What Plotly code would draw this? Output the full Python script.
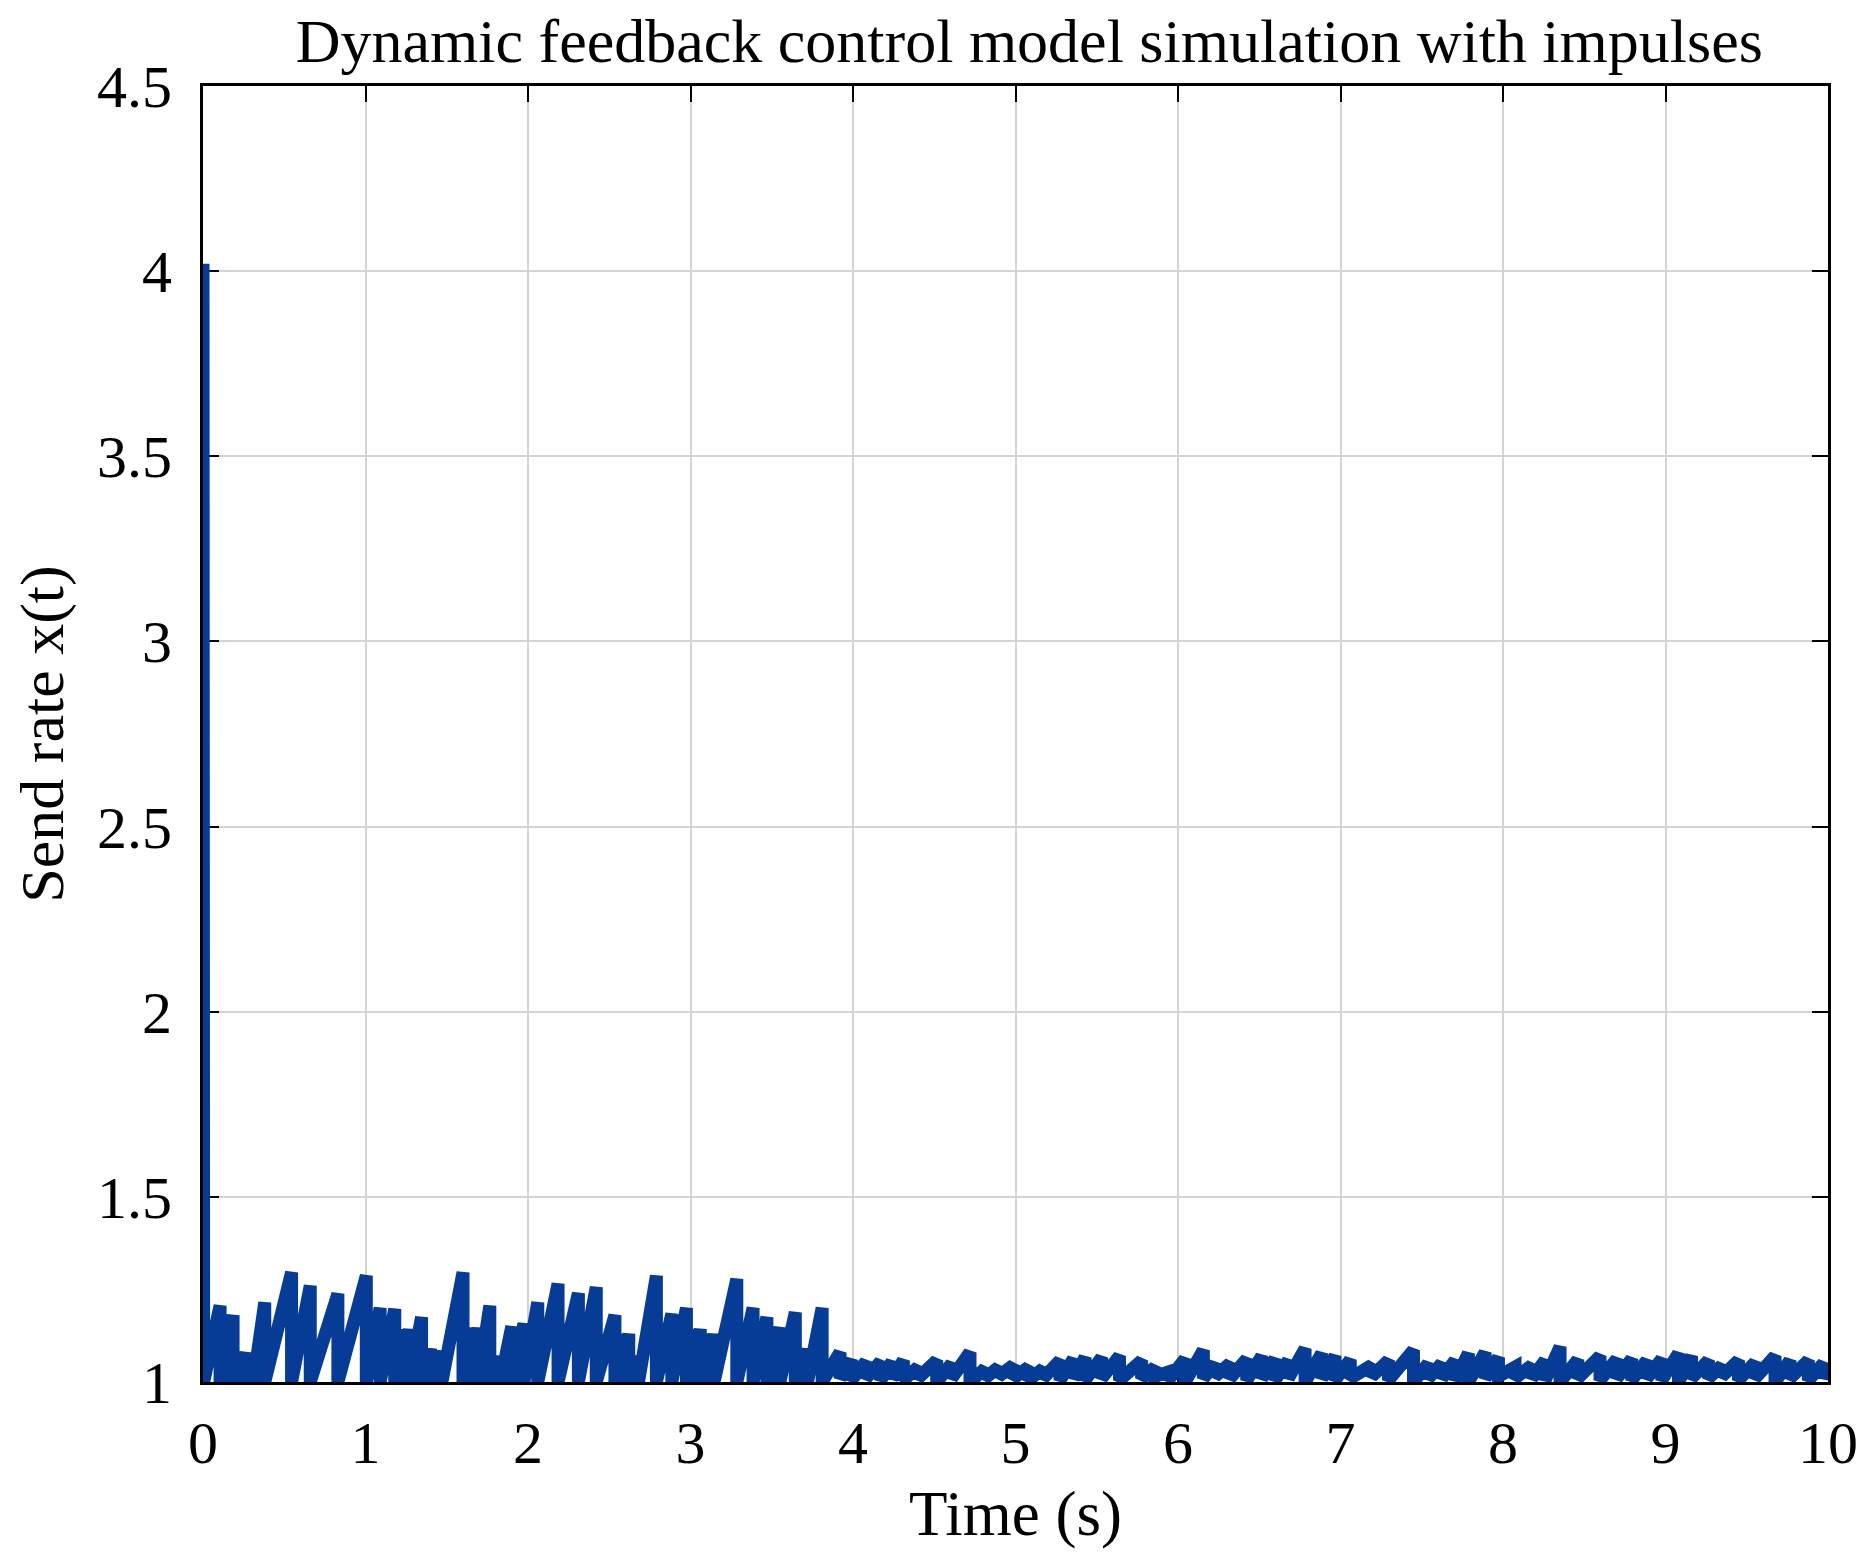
import plotly.graph_objects as go

# ---- data ----
# (time, value) vertices of the send-rate curve x(t)
t_vals = [
    0.000, 0.004, 0.105, 0.105, 0.185, 0.185, 0.225, 0.225, 0.265, 0.265, 0.310, 0.310,
    0.380, 0.380, 0.545, 0.545, 0.660, 0.660, 0.830, 0.830, 1.005, 1.005, 1.090, 1.090,
    1.180, 1.180, 1.225, 1.225, 1.270, 1.270, 1.345, 1.345, 1.400, 1.400, 1.440, 1.440,
    1.470, 1.470, 1.600, 1.600, 1.635, 1.635, 1.665, 1.665, 1.695, 1.695, 1.765, 1.765,
    1.800, 1.800, 1.830, 1.830, 1.900, 1.900, 1.975, 1.975, 2.060, 2.060, 2.185, 2.185,
    2.310, 2.310, 2.420, 2.420, 2.535, 2.535, 2.565, 2.565, 2.620, 2.620, 2.650, 2.650,
    2.680, 2.680, 2.790, 2.790, 2.885, 2.885, 2.975, 2.975, 3.010, 3.010, 3.060, 3.060,
    3.100, 3.100, 3.145, 3.145, 3.285, 3.285, 3.385, 3.385, 3.470, 3.470, 3.550, 3.550,
    3.645, 3.645, 3.680, 3.680, 3.720, 3.720, 3.810, 3.810,
]
x_vals = [
    4.020, 1.000, 1.206, 1.000, 1.180, 1.000, 1.076, 1.000, 1.080, 1.000, 1.076, 1.000,
    1.215, 1.000, 1.296, 1.000, 1.260, 1.000, 1.238, 1.000, 1.287, 1.000, 1.200, 1.000,
    1.197, 1.000, 1.143, 1.000, 1.143, 1.000, 1.175, 1.000, 1.090, 1.000, 1.085, 1.000,
    1.080, 1.000, 1.296, 1.000, 1.147, 1.000, 1.147, 1.000, 1.147, 1.000, 1.206, 1.000,
    1.070, 1.000, 1.070, 1.000, 1.150, 1.000, 1.158, 1.000, 1.215, 1.000, 1.265, 1.000,
    1.240, 1.000, 1.256, 1.000, 1.180, 1.000, 1.130, 1.000, 1.130, 1.000, 1.070, 1.000,
    1.070, 1.000, 1.287, 1.000, 1.184, 1.000, 1.200, 1.000, 1.143, 1.000, 1.143, 1.000,
    1.130, 1.000, 1.130, 1.000, 1.278, 1.000, 1.200, 1.000, 1.175, 1.000, 1.147, 1.000,
    1.188, 1.000, 1.090, 1.000, 1.090, 1.000, 1.200, 1.000,
]

# small oscillations after ~3.85 s: peak times, peak values, trough values after each drop
small_peak_t = [
    3.92, 3.99, 4.08, 4.17, 4.24, 4.31, 4.40, 4.515, 4.607, 4.72, 4.812, 4.895, 4.987,
    5.08, 5.17, 5.274, 5.356, 5.428, 5.53, 5.64, 5.776, 5.858, 5.94, 6.043, 6.156, 6.228,
    6.32, 6.423, 6.515, 6.597, 6.679, 6.782, 6.884, 6.966, 7.06, 7.192, 7.295, 7.449,
    7.54, 7.623, 7.705, 7.787, 7.89, 7.972, 8.074, 8.177, 8.259, 8.351, 8.46, 8.597,
    8.70, 8.792, 8.885, 8.977, 9.08, 9.16, 9.264, 9.346, 9.449, 9.551, 9.674, 9.766,
    9.879, 9.972,
]
small_peak_x = [
    1.080, 1.060, 1.055, 1.055, 1.055, 1.058, 1.040, 1.058, 1.050, 1.080, 1.036, 1.040, 1.045,
    1.040, 1.036, 1.058, 1.062, 1.066, 1.066, 1.070, 1.058, 1.040, 1.027, 1.062, 1.086, 1.050,
    1.050, 1.062, 1.070, 1.062, 1.058, 1.090, 1.077, 1.070, 1.060, 1.045, 1.058, 1.086,
    1.050, 1.050, 1.058, 1.077, 1.080, 1.066, 1.040, 1.045, 1.058, 1.095, 1.060, 1.070,
    1.062, 1.062, 1.058, 1.062, 1.077, 1.070, 1.058, 1.045, 1.058, 1.053, 1.070, 1.058,
    1.058, 1.050,
]
small_trough_x = [
    1.010, 1.005, 1.010, 1.005, 1.010, 1.005, 1.010, 1.000, 1.010, 1.000, 1.010, 1.015, 1.010,
    1.005, 1.010, 1.005, 1.010, 1.005, 1.010, 1.005, 1.010, 1.015, 1.005, 1.000, 1.010, 1.015,
    1.010, 1.005, 1.010, 1.005, 1.010, 1.000, 1.010, 1.005, 1.010, 1.015, 1.005, 1.000,
    1.010, 1.010, 1.005, 1.000, 1.010, 1.015, 1.010, 1.010, 1.005, 1.000, 1.010, 1.005,
    1.010, 1.005, 1.010, 1.005, 1.000, 1.010, 1.010, 1.015, 1.005, 1.010, 1.000, 1.010,
    1.005, 1.010,
]
end_t, end_x = 10.0, 1.040

x_ticks = [0, 1, 2, 3, 4, 5, 6, 7, 8, 9, 10]
y_ticks = [1, 1.5, 2, 2.5, 3, 3.5, 4, 4.5]
y_tick_labels = ["1", "1.5", "2", "2.5", "3", "3.5", "4", "4.5"]

# ---- build polyline ----
T = list(t_vals)
X = list(x_vals)
for tp, xp, xt in zip(small_peak_t, small_peak_x, small_trough_x):
    T += [tp, tp]
    X += [xp, xt]
T.append(end_t)
X.append(end_x)

FONT = "Liberation Serif, Times New Roman, serif"

fig = go.Figure()
fig.add_trace(go.Scatter(
    x=T, y=X, mode="lines",
    line=dict(color="#073c96", width=13),
    showlegend=False, hoverinfo="skip",
))

axis_common = dict(
    showgrid=True, gridcolor="#d4d4d4", gridwidth=2,
    showline=True, linecolor="black", linewidth=3, mirror="allticks",
    ticks="inside", ticklen=16, tickwidth=2, tickcolor="black",
    zeroline=False, layer="below traces",
    tickfont=dict(family=FONT, size=60, color="black"),
)

fig.update_layout(
    width=1862, height=1547,
    paper_bgcolor="white", plot_bgcolor="white",
    margin=dict(l=195, r=42, t=78, b=173),
    title=dict(
        text="Dynamic feedback control model simulation with impulses",
        x=0.5485, xanchor="center", y=0.979, yanchor="middle",
        font=dict(family=FONT, size=62, color="black"),
    ),
    xaxis=dict(
        range=[0, 10], tickvals=x_ticks, ticktext=[str(v) for v in x_ticks],
        ticklabelstandoff=6, automargin=False,
        title=dict(text="Time (s)", font=dict(family=FONT, size=63, color="black"), standoff=16),
        **axis_common,
    ),
    yaxis=dict(
        range=[1, 4.5], tickvals=y_ticks, ticktext=y_tick_labels,
        ticklabelstandoff=16,
        title=dict(text="Send rate x(t)", font=dict(family=FONT, size=62, color="black"), standoff=30),
        **axis_common,
    ),
)

fig.write_html("out.html")
